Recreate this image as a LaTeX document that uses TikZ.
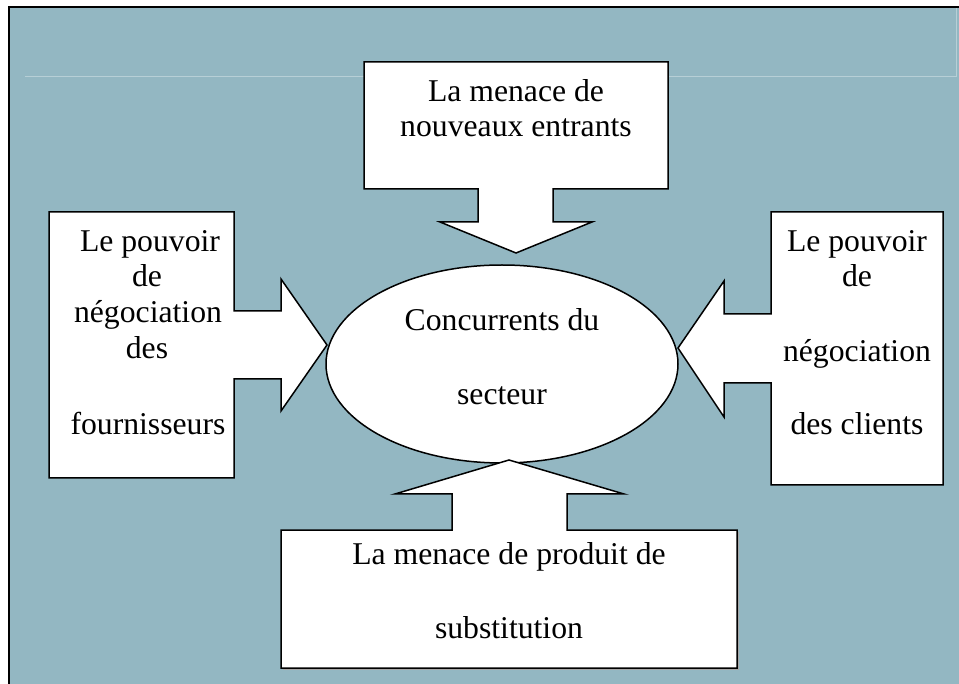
\documentclass[tikz,border=0pt]{standalone}
\usepackage{fontspec}
\setmainfont{Liberation Serif}
\definecolor{bgblue}{RGB}{147,183,194}
\definecolor{faint}{RGB}{183,207,214}
\tikzset{
  callout/.style={draw=black, fill=white, line width=1.5pt, line join=miter},
  lbl/.style={anchor=base, inner sep=0pt, font=\fontsize{31.7}{36}\selectfont},
}
\begin{document}
\begin{tikzpicture}[x=1pt,y=-1pt]
\useasboundingbox (0,0) rectangle (959,684);
\fill[white] (0,0) rectangle (959,684);
\fill[bgblue] (9,7) rectangle (959,684);
\draw[line width=2pt] (9,684) -- (9,7) -- (959,7);
\draw[faint, line width=1pt] (25,77) -- (956,77) -- (956,8);

% central ellipse
\draw[callout] (502,364) ellipse [x radius=176, y radius=99];
\node[lbl] (c1) at (502,331) {Concurrents du};
\node[lbl] (c2) at (502,405) {secteur};

% top callout
\draw[callout] (364,62) -- (668,62) -- (668,189) -- (553,189) -- (553,222) -- (592,222) -- (516,253) -- (440,222) -- (478,222) -- (478,189) -- (364,189) -- cycle;
\node[lbl] (t1) at (516,102) {La menace de};
\node[lbl] (t2) at (516,137) {nouveaux entrants};

% left callout
\draw[callout] (49,212) -- (234,212) -- (234,311) -- (281,311) -- (281,279) -- (327,345) -- (281,411) -- (281,379) -- (234,379) -- (234,478) -- (49,478) -- cycle;
\node[lbl] (l1) at (150,252) {Le pouvoir};
\node[lbl] (l2) at (147,287) {de};
\node[lbl] (l3) at (148,323) {négociation};
\node[lbl] (l4) at (147,359) {des};
\node[lbl] (l5) at (148,435) {fournisseurs};

% right callout
\draw[callout] (943,212) -- (771,212) -- (771,314) -- (724,314) -- (724,281) -- (678,348) -- (724,417) -- (724,383) -- (771,383) -- (771,485) -- (943,485) -- cycle;
\node[lbl] (r1) at (857,252) {Le pouvoir};
\node[lbl] (r2) at (857,287) {de};
\node[lbl] (r3) at (857,362) {négociation};
\node[lbl] (r4) at (857,435) {des clients};

% bottom callout
\fill[gray!70] (283,532) rectangle (739,670);
\draw[callout] (281,668) -- (737,668) -- (737,530) -- (567,530) -- (567,494) -- (624,494) -- (509,460) -- (395,494) -- (452,494) -- (452,530) -- (281,530) -- cycle;
\node[lbl] (b1) at (509,564) {La menace de produit de};
\node[lbl] (b2) at (509,638) {substitution};
\end{tikzpicture}
\end{document}
